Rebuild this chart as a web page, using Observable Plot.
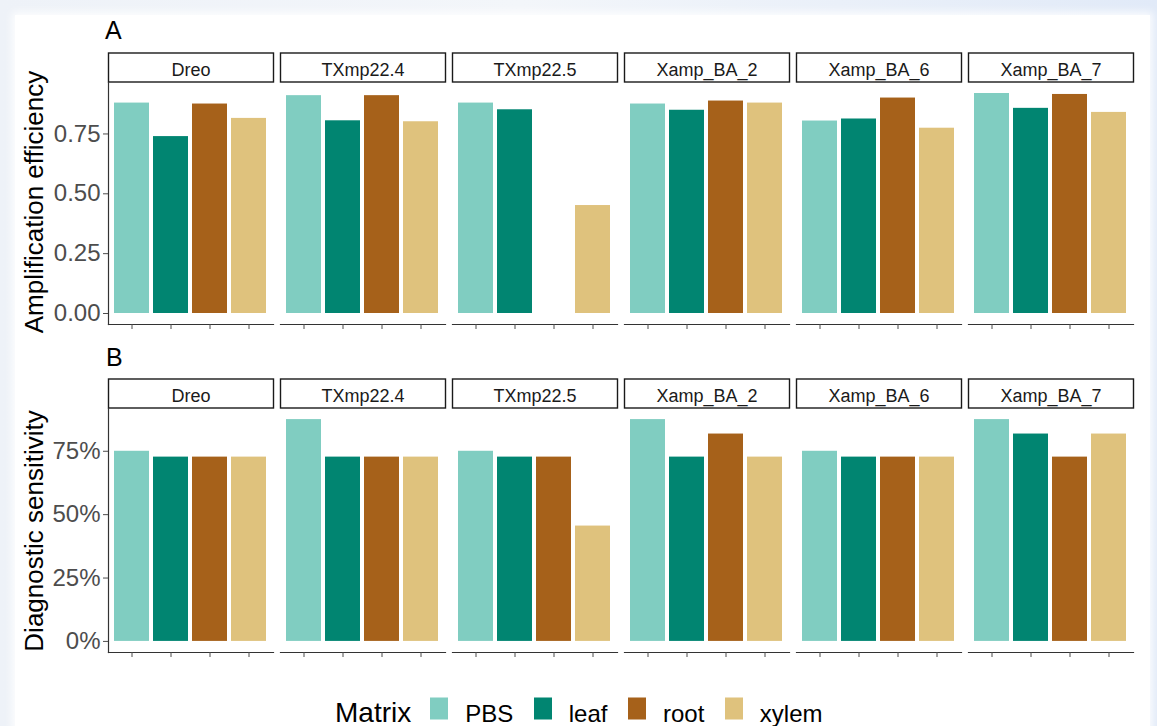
<!DOCTYPE html>
<html>
<head>
<meta charset="utf-8">
<script src="https://cdn.jsdelivr.net/npm/d3@7"></script>
<script src="https://cdn.jsdelivr.net/npm/@observablehq/plot@0.6"></script>
<style>
  html, body { margin: 0; padding: 0; }
  body {
    width: 1157px; height: 726px; overflow: hidden; position: relative;
    background: linear-gradient(90deg, #eef2f8 0%, #f3f6fa 45%, #e1eaf8 100%);
    font-family: "Liberation Sans", Arial, sans-serif;
  }
  #card {
    position: absolute; left: 15px; top: 15px; width: 1135px; height: 720px;
    background: #fff; box-shadow: 0 0 8px 3px rgba(255,255,255,0.85);
  }
  .plotbox { position: absolute; left: 0; }
  .tag { position: absolute; font-size: 25px; line-height: 25px; color: #000; }
  .ytitle {
    position: absolute; font-size: 26px; line-height: 26px; color: #000; white-space: nowrap;
    transform: translate(-50%, -50%) rotate(-90deg);
  }
  #legend {
    position: absolute; left: 335px; top: 699px;
    display: flex; align-items: baseline; white-space: nowrap;
  }
  #legend .ltitle { font-size: 28px; line-height: 28px; color: #000; margin-right: 19px; }
  #legend .sw { display: inline-block; width: 18px; height: 22px; transform: translateY(-2.5px); margin-right: 17px; }
  #legend .lab { font-size: 24px; line-height: 24px; color: #000; margin-right: 20.5px; }
</style>
</head>
<body>
<div id="card"></div>
<div id="plotA" class="plotbox" style="top:0px"></div>
<div id="plotB" class="plotbox" style="top:340px"></div>
<div class="tag" style="left:105px; top:18px">A</div>
<div class="tag" style="left:106px; top:345px">B</div>
<div class="ytitle" style="left:33.5px; top:202px">Amplification efficiency</div>
<div class="ytitle" style="left:33.5px; top:531px">Diagnostic sensitivity</div>
<div id="legend"></div>
<script>
// Strains (facets) and sample matrices (bars within each facet)
const strains = ["Dreo", "TXmp22.4", "TXmp22.5", "Xamp_BA_2", "Xamp_BA_6", "Xamp_BA_7"];
const matrices = ["PBS", "leaf", "root", "xylem"];
const matrixColors = ["#80cdc1", "#018571", "#a6611a", "#dfc27d"];

// Amplification efficiency, one value per strain (null: no amplification)
const effPBS   = [0.879, 0.910, 0.879, 0.875, 0.804, 0.919];
const effLeaf  = [0.739, 0.805, 0.851, 0.849, 0.8125, 0.857];
const effRoot  = [0.875, 0.910, null,  0.8875, 0.900, 0.915];
const effXylem = [0.815, 0.801, 0.451, 0.879, 0.774, 0.840];

// Diagnostic sensitivity (share of positive samples detected)
const sensPBS   = [0.750, 0.875, 0.750, 0.875, 0.750, 0.875];
const sensLeaf  = [0.727, 0.727, 0.727, 0.727, 0.727, 0.818];
const sensRoot  = [0.727, 0.727, 0.727, 0.818, 0.727, 0.727];
const sensXylem = [0.727, 0.727, 0.455, 0.727, 0.727, 0.818];

// Axis ticks
const effTicks = [0, 0.25, 0.5, 0.75];
const sensTicks = [0, 0.25, 0.5, 0.75];

const FONT = "Liberation Sans, Arial, sans-serif";

function toRows(series) {
  const rows = [];
  strains.forEach((s, i) => {
    matrices.forEach((m, j) => {
      const v = series[j][i];
      if (v != null) rows.push({strain: s, matrix: m, value: v});
    });
  });
  return rows;
}

function facetPanel({series, ticks, tickFormat, height, marginTop, marginBottom}) {
  const rows = toRows(series);
  const vmax = d3.max(rows, d => d.value);
  const panelH = height - marginTop - marginBottom;
  return Plot.plot({
    width: 1157,
    height,
    marginLeft: 105,
    marginRight: 21,
    marginTop,
    marginBottom,
    style: {background: "transparent", fontFamily: FONT, overflow: "visible"},
    fx: {domain: strains, paddingInner: 0.038, paddingOuter: 0},
    x: {domain: matrices, paddingInner: 0.1, paddingOuter: 0.15},
    y: {domain: [-0.05 * vmax, 1.05 * vmax]},
    color: {domain: matrices, range: matrixColors},
    marks: [
      // strip boxes above each facet
      Plot.frame({insetTop: -29.5, insetBottom: panelH + 0.5, stroke: "#1a1a1a", strokeWidth: 1.4, fill: "white"}),
      Plot.axisFx({anchor: "top", tickSize: 0, tickPadding: 7, label: null, fontSize: 18, color: "#1a1a1a"}),
      Plot.barY(rows, {fx: "strain", x: "matrix", y: "value", fill: "matrix"}),
      // axis lines
      Plot.frame({anchor: "bottom", stroke: "#333", strokeWidth: 1.2}),
      Plot.frame({anchor: "left", facetAnchor: "left", stroke: "#333", strokeWidth: 1.2}),
      Plot.axisX({tickSize: 5, tickFormat: () => "", label: null, color: "#4d4d4d"}),
      Plot.axisY({ticks, tickSize: 5, tickPadding: 3, tickFormat, label: null, fontSize: 24, color: "#4d4d4d"})
    ]
  });
}

document.getElementById("plotA").append(facetPanel({
  series: [effPBS, effLeaf, effRoot, effXylem],
  ticks: effTicks,
  tickFormat: d3.format(".2f"),
  height: 340, marginTop: 82, marginBottom: 16
}));

document.getElementById("plotB").append(facetPanel({
  series: [sensPBS, sensLeaf, sensRoot, sensXylem],
  ticks: sensTicks,
  tickFormat: d3.format(".0%"),
  height: 330, marginTop: 68, marginBottom: 18
}));

// Legend
const legend = document.getElementById("legend");
const title = document.createElement("span");
title.className = "ltitle";
title.textContent = "Matrix";
legend.append(title);
matrices.forEach((m, i) => {
  const sw = document.createElement("span");
  sw.className = "sw";
  sw.style.background = matrixColors[i];
  const lab = document.createElement("span");
  lab.className = "lab";
  lab.textContent = m;
  legend.append(sw, lab);
});
</script>
</body>
</html>
